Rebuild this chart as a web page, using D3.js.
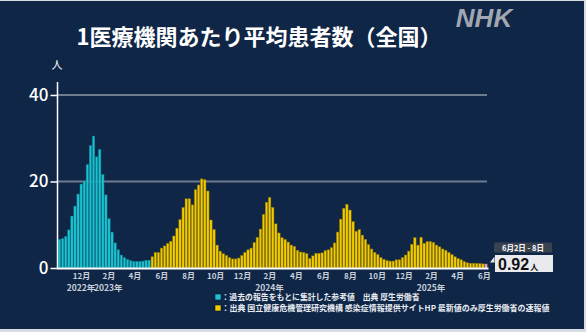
<!DOCTYPE html>
<html lang="ja">
<head>
<meta charset="utf-8">
<script src="https://cdn.jsdelivr.net/npm/d3@7"></script>
<style>
  html, body { margin: 0; padding: 0; background: #d9dce2; }
  svg { display: block; }
  text { font-family: "Noto Sans CJK JP", "Noto Sans", sans-serif; }
</style>
</head>
<body>
<svg id="chart" width="586" height="332"></svg>
<script>
// Weekly average patients per sentinel medical institution (nationwide)
const firstWeekStart = "2022-10-10";   // Monday of the first week shown

// Reference values aggregated from past reports (MHLW)
const referenceValues = [
  6.6, 6.8, 7.3, 8.8, 12.0, 14.3, 17.1, 19.4, 20.1, 23.9,
  28.3, 30.5, 25.7, 27.4, 21.6, 16.9, 11.4, 8.3, 5.8, 4.2,
  3.0, 2.4, 2.0, 1.7, 1.5, 1.5, 1.5, 1.6, 1.8, 1.8
];

// Sentinel surveillance values
const sentinelValues = [
  2.6, 3.6, 3.6, 4.6, 5.1, 5.7, 6.2, 7.4, 9.2, 11.2,
  14.0, 16.0, 16.0, 14.6, 18.1, 19.2, 20.6, 20.4, 17.8, 11.1,
  8.9, 5.3, 3.9, 3.3, 2.9, 2.4, 2.1, 2.1, 2.3, 2.9,
  3.6, 4.2, 4.6, 5.9, 7.1, 9.0, 12.4, 15.2, 16.3, 14.0,
  10.2, 8.1, 7.0, 6.6, 6.0, 5.3, 5.0, 4.1, 3.7, 3.6,
  3.3, 2.2, 2.8, 3.4, 3.4, 3.5, 4.0, 4.2, 4.7, 5.8,
  8.3, 11.3, 13.8, 14.7, 13.4, 10.7, 8.5, 8.9, 7.6, 6.6,
  5.4, 4.4, 3.6, 3.1, 2.4, 2.0, 1.7, 1.6, 1.6, 1.9,
  1.9, 2.4, 3.0, 3.9, 5.5, 7.0, 5.3, 7.1, 5.7, 6.1,
  6.1, 5.9, 5.3, 4.9, 4.4, 4.1, 3.6, 3.1, 2.6, 2.2,
  1.9, 1.5, 1.2, 1.1, 1.1, 1.05, 1.0, 0.95, 0.92
];

const yTicks = [0, 20, 40];

const monthTickDates = [
  "2022-12-01", "2023-02-01", "2023-04-01", "2023-06-01", "2023-08-01", "2023-10-01",
  "2023-12-01", "2024-02-01", "2024-04-01", "2024-06-01", "2024-08-01", "2024-10-01",
  "2024-12-01", "2025-02-01", "2025-04-01", "2025-06-01"
];
const monthTickLabels = [
  "12月", "2月", "4月", "6月", "8月", "10月",
  "12月", "2月", "4月", "6月", "8月", "10月",
  "12月", "2月", "4月", "6月"
];
const yearLabelDates = ["2022-12-01", "2023-02-01", "2024-02-01", "2025-02-01"];
const yearLabelTexts = ["2022年", "2023年", "2024年", "2025年"];

const titleText = "1医療機関あたり平均患者数（全国）";
const legendTexts = [
  "：過去の報告をもとに集計した参考値　出典 厚生労働省",
  "：出典 国立健康危機管理研究機構 感染症情報提供サイトHP 最新値のみ厚生労働省の速報値"
];
const latestRangeText = "6月2日 - 8日";

// ---- build weekly rows ----
const parse = d3.utcParse("%Y-%m-%d");
const start = parse(firstWeekStart);
const rows = [];
referenceValues.forEach(v => rows.push({ value: v, kind: "reference" }));
sentinelValues.forEach(v => rows.push({ value: v, kind: "sentinel" }));
rows.forEach((r, i) => { r.date = d3.utcDay.offset(start, i * 7); });
rows[rows.length - 1].kind = "latest";

const svg = d3.select("#chart");

// panel background
svg.append("rect").attr("x", 0).attr("y", 1).attr("width", 584).attr("height", 328)
  .attr("fill", "#0f2647");

// scales
const lastDate = rows[rows.length - 1].date;
const x = d3.scaleUtc()
  .domain([start, d3.utcDay.offset(lastDate, 7)])
  .range([58, 487.5]);
const y = d3.scaleLinear().domain([0, 43]).range([268, 82]);
const step = x(d3.utcDay.offset(start, 7)) - x(start);

// gridlines
svg.append("g").selectAll("line")
  .data(yTicks.filter(t => t > 0))
  .join("line")
  .attr("x1", 58).attr("x2", 487)
  .attr("y1", d => y(d)).attr("y2", d => y(d))
  .attr("stroke", "#6f7b90").attr("stroke-width", 2);

// bars
const fills = { reference: "#1dc2d2", sentinel: "#f3cc00", latest: "#f2a9b8" };
const strokes = { reference: "#0a7f8e", sentinel: "#8d7600", latest: "#b27784" };
svg.append("g").selectAll("rect")
  .data(rows)
  .join("rect")
  .attr("x", d => x(d.date) + 0.35)
  .attr("width", step - 0.7)
  .attr("y", d => y(d.value))
  .attr("height", d => y(0) - y(d.value))
  .attr("fill", d => fills[d.kind])
  .attr("stroke", d => strokes[d.kind])
  .attr("stroke-width", 0.5);

// y axis
const yAxis = d3.axisLeft(y).tickValues(yTicks).tickSize(7).tickPadding(2).tickFormat(d3.format("d"));
const gy = svg.append("g").attr("transform", "translate(57.5,0)").call(yAxis);
gy.select(".domain").attr("stroke", "#ffffff").attr("stroke-width", 1.5)
  .attr("d", `M0,${y(0)}V${y(43)}`);
gy.selectAll(".tick line").attr("stroke", "#ffffff").attr("stroke-width", 1.5);
gy.selectAll(".tick text").attr("fill", "#ffffff")
  .style("font-family", "'Noto Sans CJK JP', sans-serif")
  .style("font-size", "17px").style("font-weight", 500);

// unit label
svg.append("text").attr("x", 57).attr("y", 69).attr("text-anchor", "middle")
  .attr("fill", "#ffffff").style("font-size", "11px").text("人");

// x baseline
svg.append("line").attr("x1", 57).attr("x2", 488.5)
  .attr("y1", y(0) + 0.5).attr("y2", y(0) + 0.5)
  .attr("stroke", "#ffffff").attr("stroke-width", 2);

// month labels
const xAxis = d3.axisBottom(x)
  .tickValues(monthTickDates.map(parse))
  .tickSize(0).tickPadding(0)
  .tickFormat((d, i) => monthTickLabels[i]);
const gx = svg.append("g").attr("transform", "translate(0,273)").call(xAxis);
gx.select(".domain").remove();
gx.selectAll(".tick text").attr("fill", "#c9d0da").attr("dy", "0.71em")
  .style("font-family", "'Noto Sans CJK JP', sans-serif")
  .style("font-size", "8px").style("font-weight", 700);

// year labels
svg.append("g").selectAll("text")
  .data(yearLabelTexts)
  .join("text")
  .attr("x", (d, i) => x(parse(yearLabelDates[i])))
  .attr("y", 290.5)
  .attr("text-anchor", "middle")
  .attr("fill", "#c9d0da")
  .style("font-size", "8.5px").style("font-weight", 700)
  .text(d => d);

// title
svg.append("text").attr("x", 259).attr("y", 44.5).attr("text-anchor", "middle")
  .attr("fill", "#ffffff").style("font-size", "22px").style("font-weight", 700)
  .text(titleText);

// broadcaster mark
svg.append("text").attr("x", 484).attr("y", 27).attr("text-anchor", "middle")
  .attr("fill", "#a1a6b0")
  .style("font-family", "'Liberation Sans', Arial, sans-serif")
  .style("font-size", "26px").style("font-weight", 700).style("font-style", "italic")
  .text("NHK");

// legend
const legendKinds = ["reference", "sentinel"];
const legendWidths = [198, 328];
const lg = svg.append("g");
legendKinds.forEach((k, i) => {
  const cy = 297 + i * 11;
  lg.append("rect").attr("x", 215).attr("y", cy - 3).attr("width", 6).attr("height", 6)
    .attr("fill", fills[k]).attr("stroke", "#0a1a33").attr("stroke-width", 0.6);
  lg.append("text").attr("x", 221.5).attr("y", cy + 3)
    .attr("fill", "#e9edf3")
    .attr("textLength", legendWidths[i]).attr("lengthAdjust", "spacingAndGlyphs")
    .style("font-size", "8px").style("font-weight", 700)
    .text(legendTexts[i]);
});

// latest value callout
const latest = rows[rows.length - 1];
const cg = svg.append("g");
cg.append("rect").attr("x", 494).attr("y", 242.5).attr("width", 58).attr("height", 10)
  .attr("rx", 1.5).attr("fill", "#3a4250");
cg.append("text").attr("x", 523).attr("y", 250.5).attr("text-anchor", "middle")
  .attr("fill", "#ffffff").style("font-size", "7.5px").style("font-weight", 700)
  .text(latestRangeText);
cg.append("path").attr("d", "M490,262.5L494.5,256.5V262.5Z").attr("fill", "#e8eaee");
cg.append("rect").attr("x", 495).attr("y", 255).attr("width", 58).attr("height", 17)
  .attr("fill", "#e8eaee");
const vt = cg.append("text").attr("x", 498).attr("y", 269.5).attr("fill", "#111111")
  .style("font-family", "'Liberation Sans', Arial, sans-serif");
vt.append("tspan").style("font-size", "16px").style("font-weight", 700)
  .text(d3.format(".2f")(latest.value));
vt.append("tspan").attr("dx", 1)
  .style("font-family", "'Noto Sans CJK JP', sans-serif")
  .style("font-size", "8px").style("font-weight", 700).text("人");
</script>
</body>
</html>
